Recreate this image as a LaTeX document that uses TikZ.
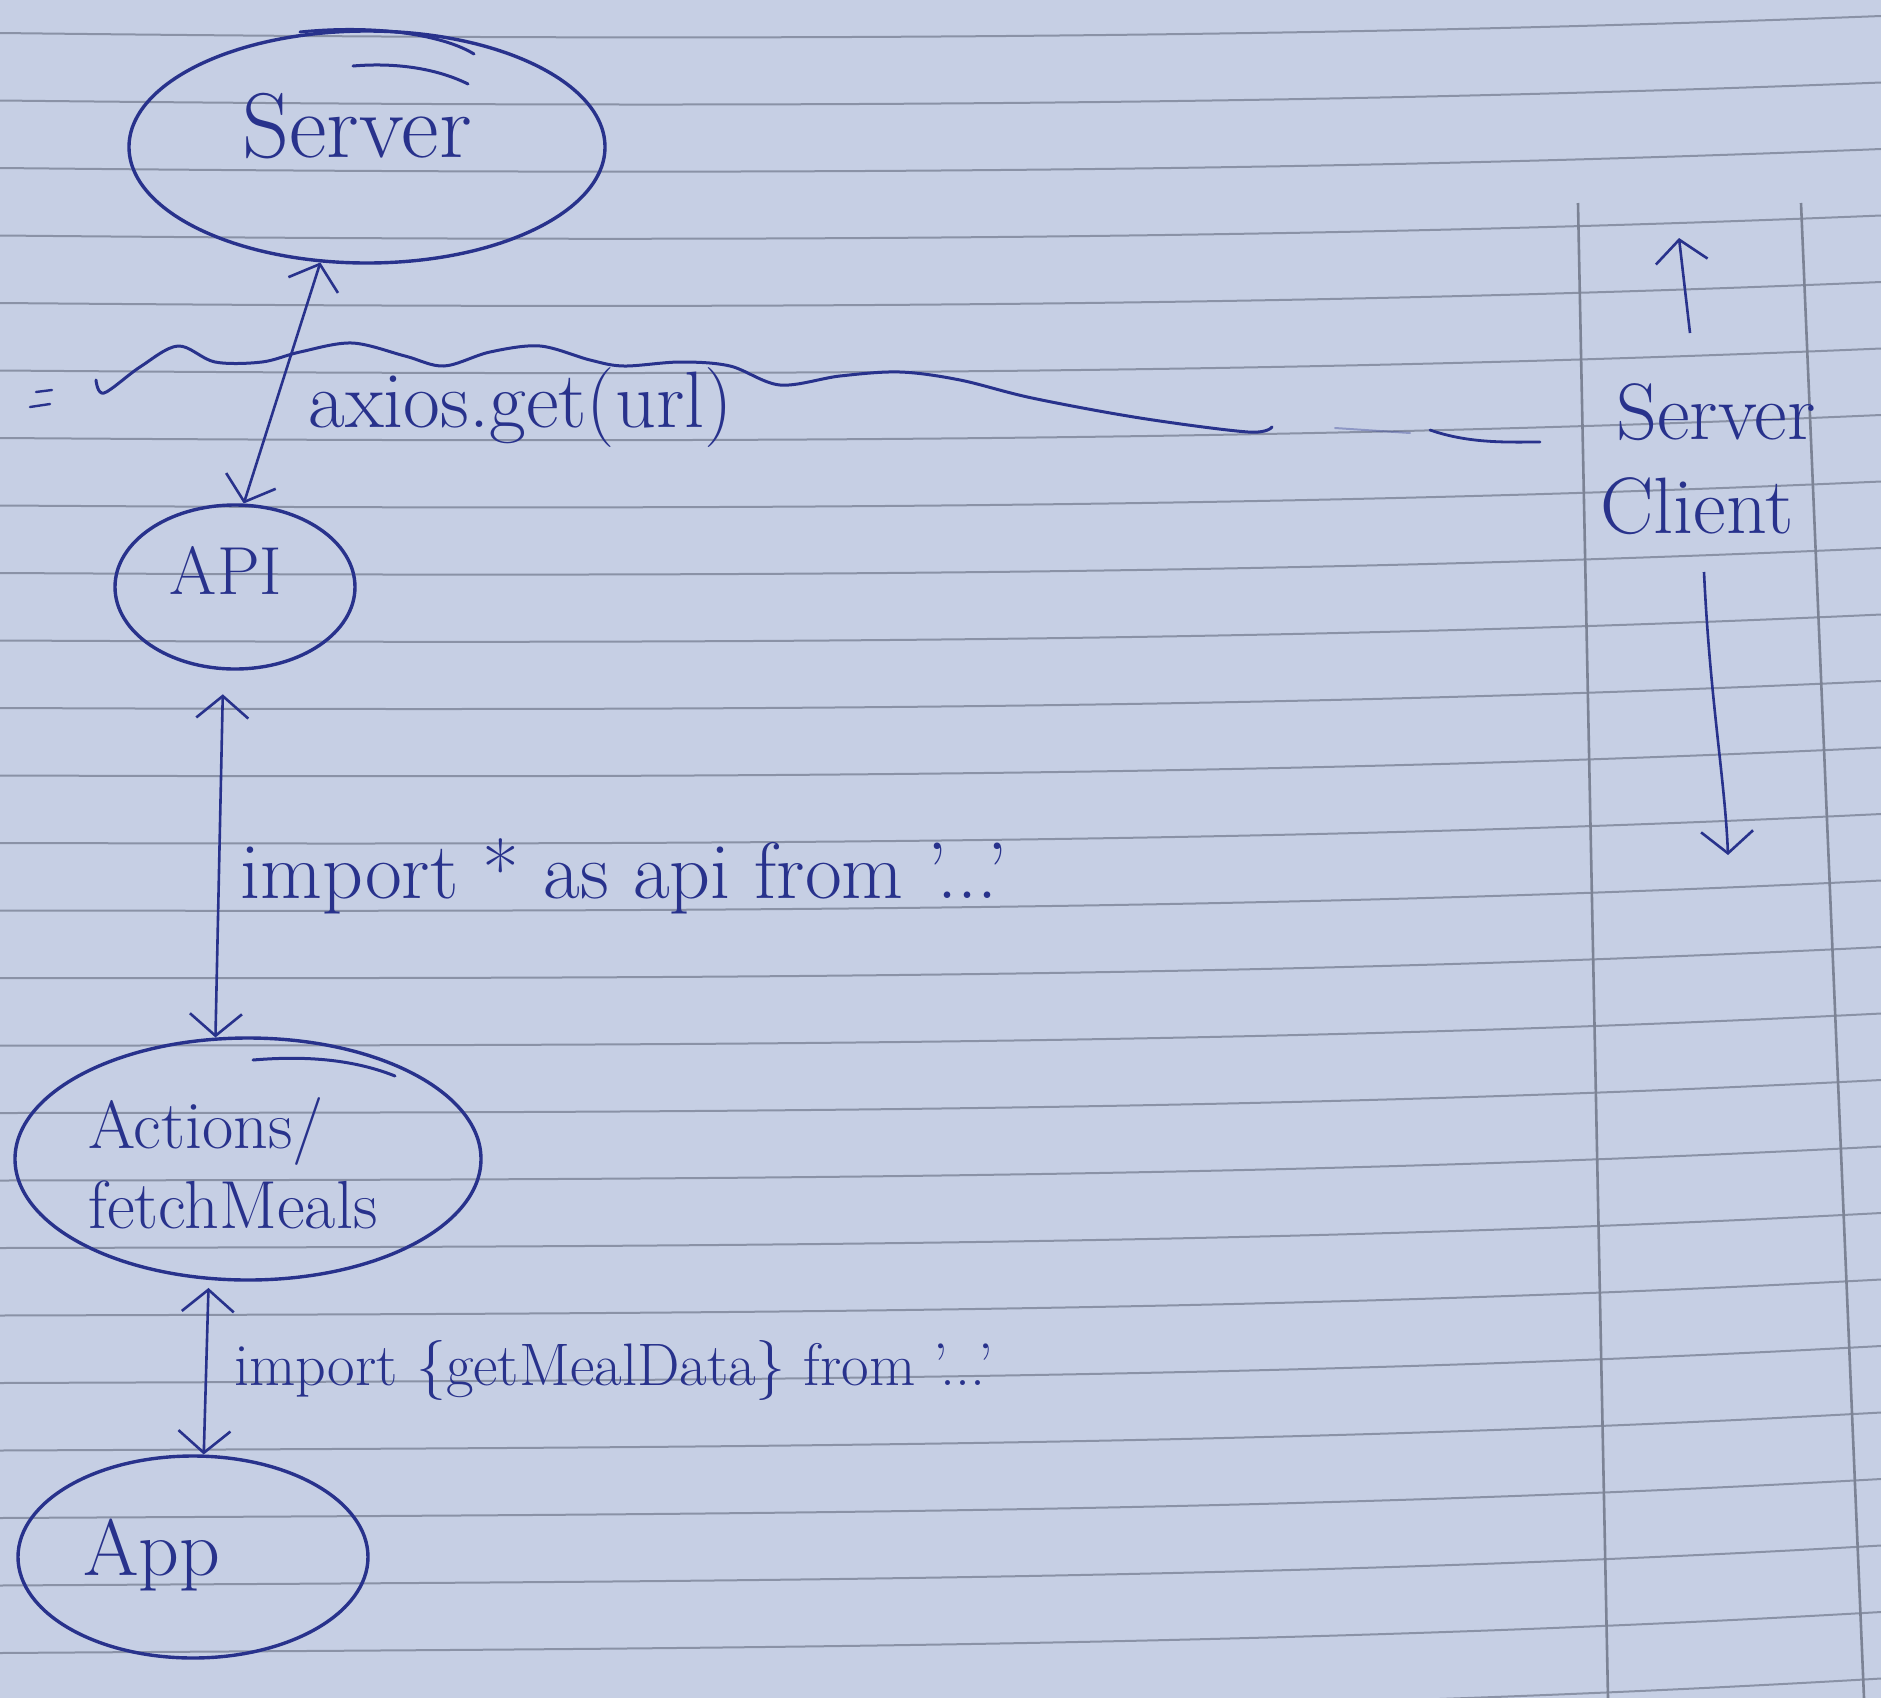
\documentclass[tikz,border=0pt]{standalone}
\usetikzlibrary{arrows.meta,shapes.geometric}
\definecolor{paper}{RGB}{198,207,228}
\definecolor{ruleline}{RGB}{138,146,166}
\definecolor{ink}{RGB}{40,50,140}
\begin{document}
\begin{tikzpicture}[x=0.5pt,y=-0.5pt,
  >={Straight Barb[length=11pt,width=26pt]},
  rl/.style={draw=ruleline, line width=1pt},
  marginline/.style={draw=ruleline!90!black, line width=1.3pt},
  bubble/.style={ellipse, draw=ink, line width=1.7pt, inner sep=0pt},
  hand/.style={text=ink, inner sep=0pt},
  link/.style={draw=ink, line width=1.3pt},
  pen/.style={draw=ink, line width=1.6pt, line cap=round, line join=round}]
\fill[paper] (0,0) rectangle (1881,1698);
\useasboundingbox (0,0) rectangle (1881,1698);
% ruled paper
\begin{scope}
\clip (0,0) rectangle (1881,1698);
\foreach \i in {0,...,25}{
  \pgfmathsetmacro\L{33+67.5*\i}
  \pgfmathsetmacro\R{16+66.5*\i}
  \pgfmathsetmacro\M{(\L+\R)/2+12}
  \pgfmathsetmacro\C{(8*\M-\L-\R)/6}
  \draw[rl] (0,\L) .. controls (627,\C) and (1254,\C) .. (1881,\R);
}
\draw[marginline] (1578,203) -- (1608,1698);
\draw[marginline] (1801,203) -- (1864,1698);
\end{scope}
% bubbles
\node[bubble, minimum width=238pt, minimum height=116pt] (server) at (367,147) {};
\node[bubble, minimum width=120pt, minimum height=82pt] (api) at (235,587) {};
\node[bubble, minimum width=233pt, minimum height=121pt] (actions) at (248,1159) {};
\node[bubble, minimum width=175pt, minimum height=101pt] (app) at (193,1557) {};
\draw[pen, line width=1.5pt] (300,32) .. controls (380,24) and (445,36) .. (474,54);
\draw[pen, line width=1.5pt] (353,66) .. controls (400,62) and (440,70) .. (468,84);
\draw[pen, line width=1.5pt] (253,1060) .. controls (300,1056) and (350,1058) .. (395,1076);
% bubble texts
\node[hand, font=\fontsize{46}{50}\selectfont] (servertxt) at (357,126) {Server};
\node[hand, font=\fontsize{34}{38}\selectfont] (apitxt) at (226,570) {API};
\node[hand, font=\fontsize{34}{40}\selectfont, align=left, anchor=west] (actionstxt) at (88,1163) {Actions/\\fetchMeals};
\node[hand, font=\fontsize{40}{44}\selectfont] (apptxt) at (152,1555) {App};
% connectors
\draw[link, <->] (api.84) -- (server.-112);
\draw[link, <->, shorten <=12pt] (api.-98) -- (actions.105);
\draw[link, <->, shorten <=4pt] (actions.-108) -- (app.84);
% connector labels
\node[hand, font=\fontsize{40}{44}\selectfont, anchor=west] (lblaxios) at (308,408) {axios.get(url)};
\node[hand, font=\fontsize{40}{44}\selectfont, anchor=west] (lblapi) at (240,876) {import * as api from '...'};
\node[hand, font=\fontsize{30}{34}\selectfont, anchor=west] (lblmeal) at (234,1370) {import \{getMealData\} from '...'};
% server / client boundary
\draw[pen, line width=1.5pt] plot[smooth, tension=0.55] coordinates {(96,380) (104,393) (140,367) (178,346) (215,362) (262,362) (300,352) (352,343) (405,356) (444,366) (490,352) (540,346) (590,360) (624,366) (680,362) (730,366) (780,385) (840,376) (900,372) (960,380) (1032,398) (1140,418) (1248,432) (1272,427)};
\draw[pen, line width=1.4pt] (1430,430) .. controls (1470,444) and (1510,442) .. (1540,442);
\draw[pen, line width=1pt, opacity=0.35] (1335,428) -- (1410,433);
\draw[pen, line width=1.2pt] (36,392) -- (52,390);
\draw[pen, line width=1.2pt] (30,407) -- (50,404);
% right column
\coordinate (upbot) at (1690,333);
\coordinate (uptop) at (1679,238);
\draw[link, ->] (upbot) -- (uptop);
\node[hand, font=\fontsize{40}{44}\selectfont] (serverside) at (1716,412) {Server};
\node[hand, font=\fontsize{40}{44}\selectfont] (clientside) at (1697,506) {Client};
\coordinate (downtop) at (1704,572);
\coordinate (downbot) at (1728,855);
\draw[link, ->] (downtop) .. controls (1710,700) and (1725,780) .. (downbot);
\end{tikzpicture}
\end{document}
